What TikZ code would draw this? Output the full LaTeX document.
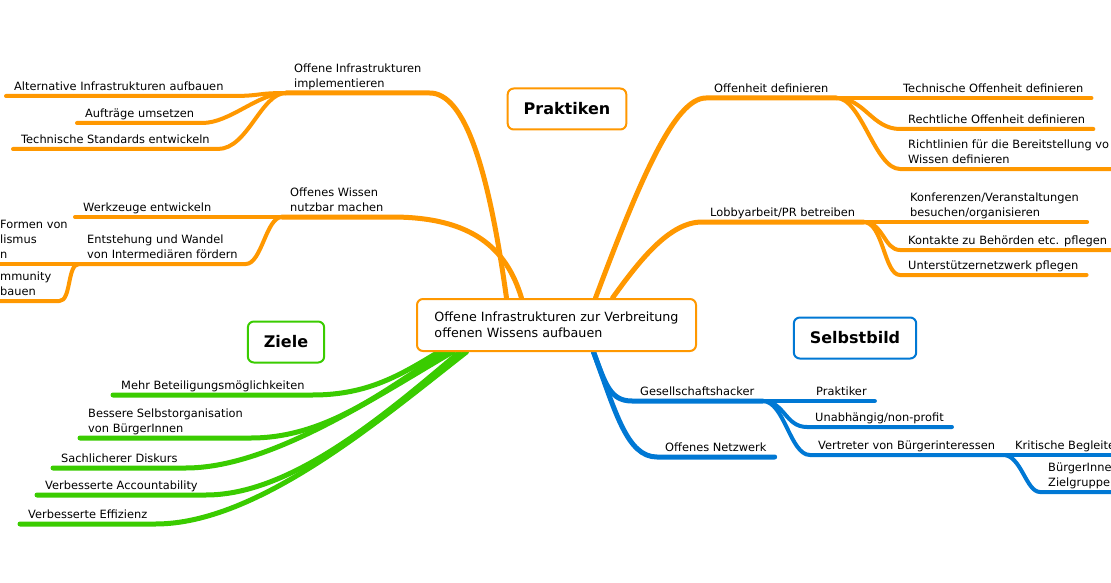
\documentclass[tikz,border=0pt]{standalone}
\usepackage{fontspec}
\setmainfont{DejaVu Sans}
\usetikzlibrary{backgrounds}
\definecolor{mmorange}{RGB}{255,152,0}
\definecolor{mmgreen}{RGB}{58,204,0}
\definecolor{mmblue}{RGB}{0,120,212}
\newcommand{\topicfont}{\fontsize{11.4}{15}\selectfont}

\begin{document}
\begin{tikzpicture}[
        x=1pt, y=-1pt,
        topic/.style={anchor=south west, inner xsep=8pt, inner ysep=0.5pt, align=left, font=\topicfont, execute at end node=\strut},
        cat/.style={draw=#1, fill=white, line width=2pt, rounded corners=6pt, inner xsep=16pt, minimum height=41pt, font=\fontsize{16}{19}\selectfont\bfseries},
        hub/.style={draw=mmorange, fill=white, line width=2pt, rounded corners=6pt, minimum width=279pt, minimum height=52pt, align=left, font=\fontsize{12.7}{16}\selectfont},
        br/.style={line width=4pt, line cap=round, line join=round},
        main/.style={line width=5pt},
        obr/.style={br, mmorange},
        gbr/.style={br, mmgreen, line width=5pt},
        bbr/.style={br, mmblue}
    ]
    \useasboundingbox (0,0) rectangle (1111,583);
    \clip (0,0) rectangle (1111,583);

    % Center
    \node[hub] (root) at (556.5,325) {Offene Infrastrukturen zur Verbreitung\\offenen Wissens aufbauen};

    % Labels
    \node[cat=mmorange] (praktiken) at (567,109) {Praktiken};
    \node[cat=mmgreen] (ziele) at (286,342) {Ziele};
    \node[cat=mmblue] (selbstbild) at (855,338) {Selbstbild};

    % Praktiken, left
    \node[topic] (oimpl) at (286,93) {Offene Infrastrukturen\\implementieren};
    \node[topic] (altinf) at (6,96) {Alternative Infrastrukturen aufbauen};
    \node[topic] (auftr) at (77,123) {Aufträge umsetzen};
    \node[topic] (techstd) at (13,149) {Technische Standards entwickeln};
    \node[topic] (owissen) at (282,217) {Offenes Wissen\\nutzbar machen};
    \node[topic] (werkz) at (75,217) {Werkzeuge entwickeln};
    \node[topic] (entst) at (79,264) {Entstehung und Wandel\\von Intermediären fördern};
    \node[topic] (formen) at (-8,264) {Formen von\\lismus\\n};
    \node[topic] (community) at (-8,301) {mmunity\\bauen};

    % Praktiken, right
    \node[topic] (offdef) at (706,98) {Offenheit definieren};
    \node[topic] (techoff) at (895,98) {Technische Offenheit definieren};
    \node[topic] (rechtoff) at (900,129) {Rechtliche Offenheit definieren};
    \node[topic] (richtl) at (900,169) {Richtlinien für die Bereitstellung vo\\Wissen definieren};
    \node[topic] (lobby) at (702,222) {Lobbyarbeit/PR betreiben};
    \node[topic] (konf) at (902,222) {Konferenzen/Veranstaltungen\\besuchen/organisieren};
    \node[topic] (kontakte) at (900,250) {Kontakte zu Behörden etc. pflegen};
    \node[topic] (unterst) at (900,275) {Unterstützernetzwerk pflegen};

    % Selbstbild
    \node[topic] (gesh) at (632,401) {Gesellschaftshacker};
    \node[topic] (praktiker) at (808,401) {Praktiker};
    \node[topic] (unabh) at (807,427) {Unabhängig/non-profit};
    \node[topic] (vertr) at (810,455) {Vertreter von Bürgerinteressen};
    \node[topic] (krit) at (1007,455) {Kritische Begleite};
    \node[topic] (buerger) at (1040,492) {BürgerInne\\Zielgruppe};
    \node[topic] (netzwerk) at (657,457) {Offenes Netzwerk};

    % Ziele
    \node[topic] (mehr) at (113,395) {Mehr Beteiligungsmöglichkeiten};
    \node[topic] (bessere) at (80,438) {Bessere Selbstorganisation\\von BürgerInnen};
    \node[topic] (sachl) at (53,468) {Sachlicherer Diskurs};
    \node[topic] (account) at (37,495) {Verbesserte Accountability};
    \node[topic] (effiz) at (20,524) {Verbesserte Effizienz};

    % where the branches leave the center
    \coordinate (o1) at ([xshift=-50pt]root.north);
    \coordinate (o2) at ([xshift=-35pt]root.north);
    \coordinate (o3) at ([xshift=39pt]root.north);
    \coordinate (o4) at ([xshift=56pt]root.north);
    \coordinate (b1) at ([xshift=37pt]root.south);
    \coordinate (g1) at ([xshift=-118pt]root.south);
    \coordinate (g2) at ([xshift=-111pt]root.south);
    \coordinate (g3) at ([xshift=-104pt]root.south);
    \coordinate (g4) at ([xshift=-97pt]root.south);
    \coordinate (g5) at ([xshift=-90pt]root.south);

    \begin{scope}[on background layer]
    \fill[white] (0,0) rectangle (1111,583);

    % Praktiken, left
    \draw[obr, main] (o1) .. controls +(-18,-130) and +(35,0) .. (oimpl.south east) -- (oimpl.south west);
    \draw[obr, main] (o2) .. controls +(-15,-50) and +(80,0) .. (owissen.south east) -- (owissen.south west);
    \draw[obr] (oimpl.south west) .. controls +(-30,0) and +(30,0) .. (altinf.south east) -- (altinf.south west);
    \draw[obr] (oimpl.south west) .. controls +(-28,0) and +(28,0) .. (auftr.south east) -- (auftr.south west);
    \draw[obr] (oimpl.south west) .. controls +(-25,0) and +(30,0) .. (techstd.south east) -- (techstd.south west);
    \draw[obr] (owissen.south west) -- (werkz.south east) -- (werkz.south west);
    \draw[obr] (owissen.south west) .. controls +(-16,0) and +(16,0) .. (entst.south east) -- (entst.south west);
    \draw[obr] (entst.south west) -- (formen.south east) -- (formen.south west);
    \draw[obr] (entst.south west) .. controls +(-12,0) and +(12,0) .. (community.south east) -- (community.south west);

    % Praktiken, right
    \draw[obr, main] (o3) .. controls +(45,-120) and +(-31,0) .. (offdef.south west) -- (offdef.south east);
    \draw[obr, main] (o4) .. controls +(28,-39) and +(-32,0) .. (lobby.south west) -- (lobby.south east);
    \draw[obr] (offdef.south east) -- (techoff.south west) -- (techoff.south east);
    \draw[obr] (offdef.south east) .. controls +(28,0) and +(-28,0) .. (rechtoff.south west) -- (rechtoff.south east);
    \draw[obr] (offdef.south east) .. controls +(25,0) and +(-25,0) .. (richtl.south west) -- (richtl.south east);
    \draw[obr] (lobby.south east) -- (konf.south west) -- (konf.south east);
    \draw[obr] (lobby.south east) .. controls +(20,0) and +(-16,0) .. (kontakte.south west) -- (kontakte.south east);
    \draw[obr] (lobby.south east) .. controls +(20,0) and +(-16,0) .. (unterst.south west) -- (unterst.south east);

    % Selbstbild
    \draw[bbr, main] (b1) .. controls +(12,32) and +(-22,0) .. (gesh.south west) -- (gesh.south east);
    \draw[bbr, main] (b1) .. controls +(22,60) and +(-30,0) .. (netzwerk.south west) -- (netzwerk.south east);
    \draw[bbr] (gesh.south east) -- (praktiker.south west) -- (praktiker.south east);
    \draw[bbr] (gesh.south east) .. controls +(22,0) and +(-22,0) .. (unabh.south west) -- (unabh.south east);
    \draw[bbr] (gesh.south east) .. controls +(22,0) and +(-20,0) .. (vertr.south west) -- (vertr.south east);
    \draw[bbr] (vertr.south east) -- (krit.south west) -- (krit.south east);
    \draw[bbr] (vertr.south east) .. controls +(18,0) and +(-14,0) .. (buerger.south west) -- (buerger.south east);

    % Ziele
    \draw[gbr] (g1) .. controls +(-38,23) and +(55,0) .. (mehr.south east) -- (mehr.south west);
    \draw[gbr] (g2) .. controls +(-55,33) and +(79,0) .. (bessere.south east) -- (bessere.south west);
    \draw[gbr] (g3) .. controls +(-82,48) and +(83,0) .. (sachl.south east) -- (sachl.south west);
    \draw[gbr] (g4) .. controls +(-80,68) and +(83,0) .. (account.south east) -- (account.south west);
    \draw[gbr] (g5) .. controls +(-87,68) and +(102,0) .. (effiz.south east) -- (effiz.south west);
    \end{scope}
\end{tikzpicture}
\end{document}
